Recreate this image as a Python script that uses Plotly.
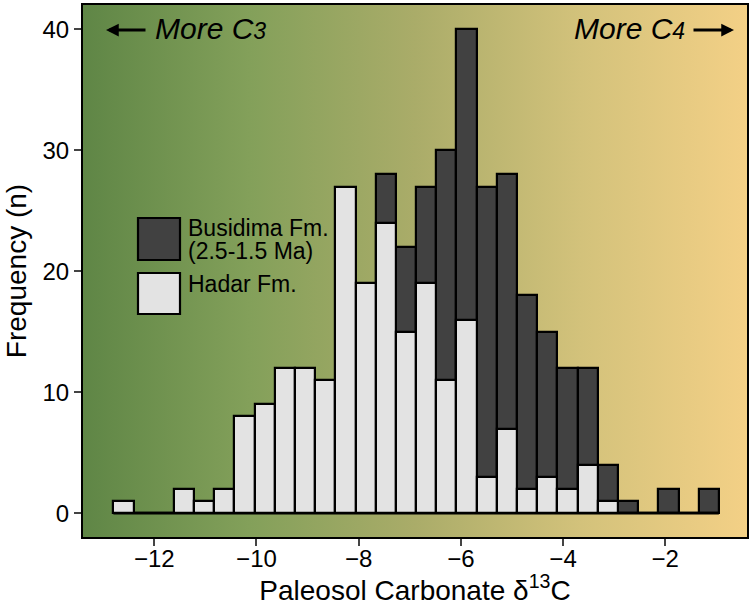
import base64
import plotly.graph_objects as go

# ---------------- data ----------------
bin_centers = [-12.603, -12.208, -11.813, -11.418, -11.023, -10.628, -10.233, -9.838,
               -9.443, -9.048, -8.653, -8.258, -7.863, -7.468, -7.073, -6.678,
               -6.283, -5.888, -5.493, -5.098, -4.703, -4.308, -3.913, -3.518,
               -3.123, -2.728, -2.333, -1.938, -1.543, -1.148]
bin_width = 0.395

hadar_counts = [1, 0, 0, 2, 1, 2, 8, 9, 12, 12, 11, 27, 19, 24, 15, 19,
                11, 16, 3, 7, 2, 3, 2, 4, 1, 0, 0, 0, 0, 0]
busidima_counts = [0, 0, 0, 0, 0, 0, 0, 0, 0, 0, 0, 0, 0, 28, 22, 27,
                   30, 40, 27, 28, 18, 15, 12, 12, 4, 1, 0, 2, 0, 2]

x_ticks = [-12, -10, -8, -6, -4, -2]
y_ticks = [0, 10, 20, 30, 40]

busidima_label = ["Busidima Fm.", "(2.5-1.5 Ma)"]
hadar_label = "Hadar Fm."

# ---------------- styles ----------------
FONT = "Liberation Sans, Arial, Helvetica, sans-serif"
DARK = "#414141"
LIGHT = "#e3e3e3"
W, H = 754, 606
ML, MR, MT, MB = 83, 7, 5, 69
PW, PH = W - ML - MR, H - MT - MB


def px_x(p):
    return (p - ML) / PW


def px_y(p):
    return 1 - (p - MT) / PH


grad_svg = (
    '<svg xmlns="http://www.w3.org/2000/svg" width="664" height="532" '
    'viewBox="0 0 664 532" preserveAspectRatio="none">'
    '<defs><linearGradient id="g" x1="0" y1="0" x2="1" y2="0">'
    '<stop offset="0" stop-color="#5f8646"/>'
    '<stop offset="0.25" stop-color="#83a05a"/>'
    '<stop offset="0.5" stop-color="#aaac69"/>'
    '<stop offset="0.75" stop-color="#d3c27b"/>'
    '<stop offset="1" stop-color="#f3d086"/>'
    '</linearGradient></defs>'
    '<rect x="0" y="0" width="664" height="532" fill="url(#g)"/></svg>'
)
grad_src = "data:image/svg+xml;base64," + base64.b64encode(grad_svg.encode()).decode()

first_edge = bin_centers[0] - bin_width / 2
last_edge = bin_centers[-1] + bin_width / 2

fig = go.Figure()

fig.add_trace(go.Bar(
    x=bin_centers, y=busidima_counts, width=bin_width,
    marker=dict(color=DARK, line=dict(color="black", width=2.2)),
    name="Busidima Fm. (2.5-1.5 Ma)", showlegend=False, hoverinfo="x+y",
))
fig.add_trace(go.Bar(
    x=bin_centers, y=hadar_counts, width=bin_width,
    marker=dict(color=LIGHT, line=dict(color="black", width=2.2)),
    name="Hadar Fm.", showlegend=False, hoverinfo="x+y",
))
# baseline drawn by the empty histogram bins
fig.add_trace(go.Scatter(
    x=[first_edge, last_edge], y=[0, 0], mode="lines",
    line=dict(color="black", width=2.2), showlegend=False, hoverinfo="skip",
))

shapes = [
    dict(type="rect", xref="paper", yref="paper",
         x0=px_x(138), x1=px_x(180), y0=px_y(260), y1=px_y(218),
         fillcolor=DARK, line=dict(color="black", width=2.2)),
    dict(type="rect", xref="paper", yref="paper",
         x0=px_x(138), x1=px_x(180), y0=px_y(314), y1=px_y(273),
         fillcolor=LIGHT, line=dict(color="black", width=2.2)),
]

big = '<span style="font-size:23px">{}</span>'
annotations = [
    dict(xref="paper", yref="paper", x=px_x(186), y=px_y(239), xanchor="left",
         yanchor="middle", align="left", showarrow=False,
         text="<br>".join(big.format(s) for s in busidima_label),
         font=dict(family=FONT, size=18, color="black")),
    dict(xref="paper", yref="paper", x=px_x(186), y=px_y(284), xanchor="left",
         yanchor="middle", text=hadar_label, showarrow=False,
         font=dict(family=FONT, size=23, color="black")),
    # top-left / top-right labels
    dict(xref="paper", yref="paper", x=px_x(153), y=px_y(28), xanchor="left",
         yanchor="middle", showarrow=False,
         text='<i>More C<span style="font-size:23px">3</span></i>',
         font=dict(family=FONT, size=30, color="black")),
    dict(xref="paper", yref="paper", x=px_x(687), y=px_y(28), xanchor="right",
         yanchor="middle", showarrow=False,
         text='<i>More C<span style="font-size:23px">4</span></i>',
         font=dict(family=FONT, size=30, color="black")),
    dict(xref="paper", yref="paper", x=px_x(106), y=px_y(30), text="",
         showarrow=True, ax=41, ay=0, arrowhead=2, arrowsize=0.85,
         arrowwidth=3, arrowcolor="black"),
    dict(xref="paper", yref="paper", x=px_x(734), y=px_y(30), text="",
         showarrow=True, ax=-42, ay=0, arrowhead=2, arrowsize=0.85,
         arrowwidth=3, arrowcolor="black"),
]

axis_common = dict(
    showline=True, mirror=True, linecolor="black", linewidth=2,
    ticks="outside", ticklen=7, tickwidth=1.5, tickcolor="#444",
    showgrid=False, zeroline=False,
    tickfont=dict(family=FONT, size=24, color="black"),
)

fig.update_layout(
    width=W, height=H,
    margin=dict(l=ML, r=MR, t=MT, b=MB, autoexpand=False),
    paper_bgcolor="white", plot_bgcolor="rgba(0,0,0,0)",
    barmode="overlay", bargap=0,
    xaxis=dict(range=[-13.395, -0.40], tickvals=x_ticks, ticklabelstandoff=-8,
               **axis_common,
               title=dict(text="Paleosol Carbonate δ<sup>13</sup>C", standoff=12,
                          font=dict(family=FONT, size=28, color="black"))),
    yaxis=dict(range=[-1.96, 42.0], tickvals=y_ticks, **axis_common,
               title=dict(text="Frequency (n)", standoff=8,
                          font=dict(family=FONT, size=28, color="black"))),
    images=[dict(source=grad_src, xref="paper", yref="paper", x=0, y=1,
                 sizex=1, sizey=1, sizing="stretch", xanchor="left", yanchor="top",
                 layer="below")],
    shapes=shapes,
    annotations=annotations,
)

fig.write_html(
    "out.html",
    config={"displayModeBar": False},
    post_script="document.body.style.margin='0';document.body.style.padding='0';",
)
